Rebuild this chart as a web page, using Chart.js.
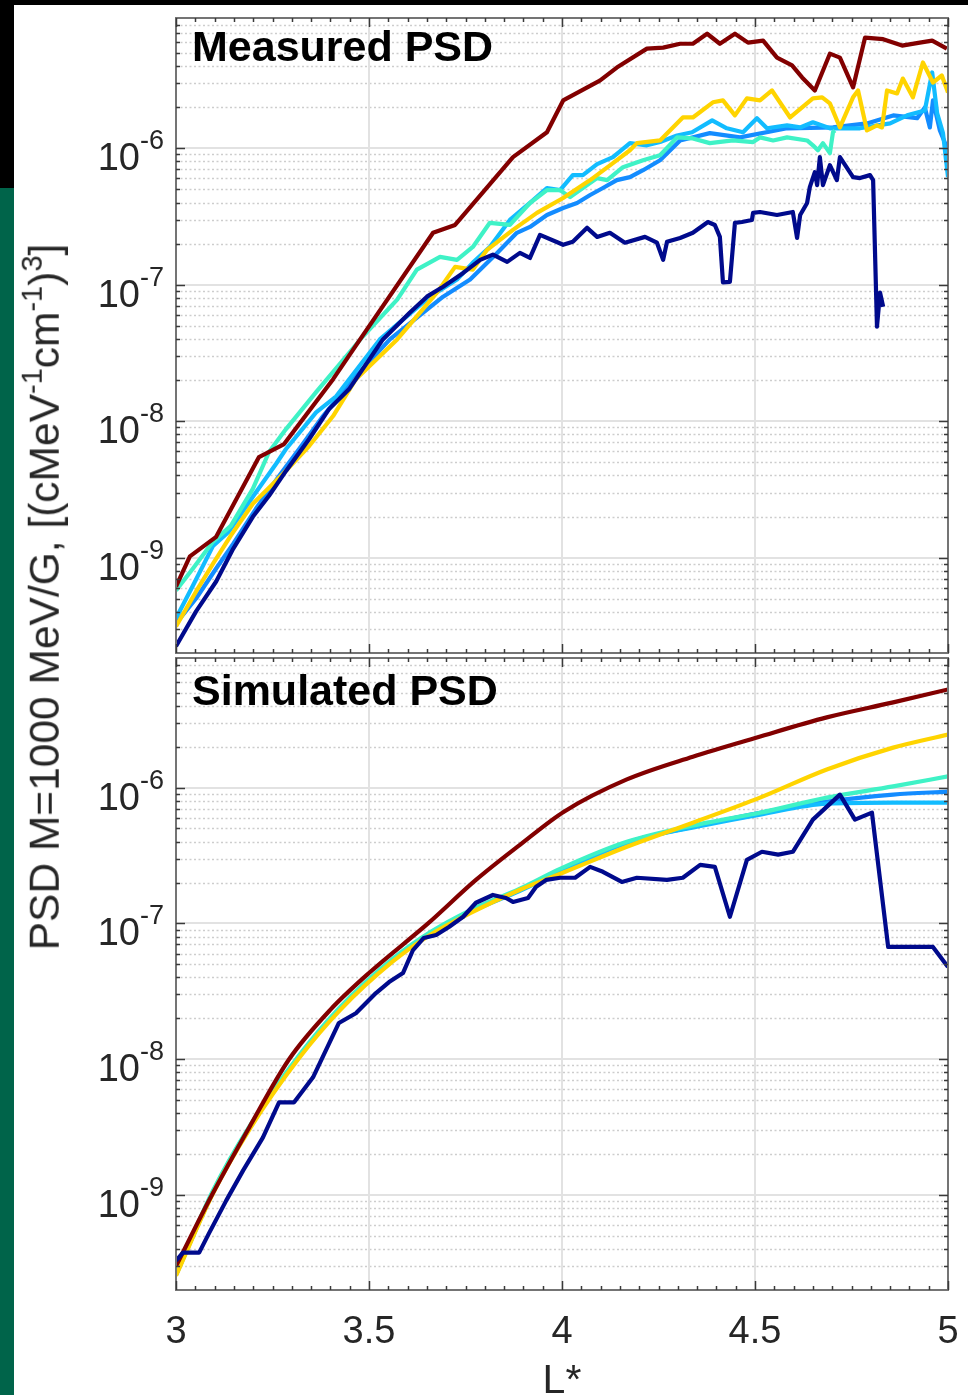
<!DOCTYPE html>
<html>
<head>
<meta charset="utf-8">
<script src="https://cdn.jsdelivr.net/npm/chart.js@4.4.0/dist/chart.umd.min.js"></script>
<style>
  body { margin: 0; width: 968px; height: 1395px; background: #fff; position: relative; overflow: hidden;
         font-family: "Liberation Sans", Arial, sans-serif; }
  #bandTop { position: absolute; left: 0; top: 0; width: 968px; height: 5px; background: #000; }
  #stripBlack { position: absolute; left: 0; top: 0; width: 14px; height: 188px; background: #000; }
  #stripGreen { position: absolute; left: 0; top: 188px; width: 14px; height: 1207px; background: #00644a; }
  #topWrap { position: absolute; left: 0; top: 0; }
  #bottomWrap { position: absolute; left: 0; top: 656px; }
  #yTitle { position: absolute; left: 45px; top: 597px; transform: translate(-50%, -50%) rotate(-90deg);
            white-space: nowrap; font-size: 42.5px; color: #262626; line-height: 1; }
  #yTitle .sup { font-size: 29px; position: relative; top: -17px; }
</style>
</head>
<body>
<div id="bandTop"></div>
<div id="stripBlack"></div>
<div id="stripGreen"></div>
<div id="topWrap"><canvas id="measuredChart" width="968" height="656"></canvas></div>
<div id="bottomWrap"><canvas id="simulatedChart" width="968" height="739"></canvas></div>
<div id="yTitle">PSD M=1000 MeV/G, [(cMeV<span class="sup">-1</span>cm<span class="sup">-1</span>)<span class="sup">3</span>]</div>

<script>
// axis ticks
const xTickValues = [3, 3.5, 4, 4.5, 5];
const xTickLabels = ["3", "3.5", "4", "4.5", "5"];
const yTickValues = [1e-9, 1e-8, 1e-7, 1e-6];
const yTickExps = ["-9", "-8", "-7", "-6"];

// series colours (jet-like)
const seriesColors = {
    navy: "#000a8c",
    red: "#820000",
    yellow: "#ffd400",
    aqua: "#3ff2c6",
    sky: "#12bcff",
    blue: "#138cff"
};

// Measured PSD, [L*, PSD]
const measNavy = [[3.0,2.24e-10],[3.052,4.04e-10],[3.104,6.68e-10],[3.148,1.16e-9],[3.199,1.99e-9],[3.241,2.84e-9],[3.285,4.32e-9],[3.345,7.4e-9],[3.396,1.22e-8],[3.448,1.71e-8],[3.536,3.97e-8],[3.606,6.25e-8],[3.650,8.17e-8],[3.692,9.66e-8],[3.744,1.22e-7],[3.788,1.52e-7],[3.821,1.66e-7],[3.858,1.47e-7],[3.891,1.71e-7],[3.917,1.57e-7],[3.943,2.32e-7],[4.003,1.96e-7],[4.028,2.06e-7],[4.065,2.61e-7],[4.091,2.24e-7],[4.124,2.40e-7],[4.163,2.03e-7],[4.215,2.24e-7],[4.246,2.03e-7],[4.262,1.52e-7],[4.272,2.06e-7],[4.306,2.2e-7],[4.339,2.40e-7],[4.378,2.88e-7],[4.396,2.74e-7],[4.409,2.24e-7],[4.417,1.04e-7],[4.435,1.05e-7],[4.448,2.84e-7],[4.466,2.88e-7],[4.492,2.98e-7],[4.495,3.36e-7],[4.513,3.41e-7],[4.557,3.24e-7],[4.598,3.41e-7],[4.609,2.2e-7],[4.617,3.24e-7],[4.635,3.97e-7],[4.642,5.19e-7],[4.655,6.68e-7],[4.661,5.37e-7],[4.668,8.6e-7],[4.676,5.37e-7],[4.694,7.51e-7],[4.712,5.84e-7],[4.720,8.6e-7],[4.754,6.14e-7],[4.772,6.04e-7],[4.798,6.35e-7],[4.806,5.84e-7],[4.816,4.93e-8],[4.824,8.75e-8],[4.832,6.9e-8]];
const measRed = [[3.0,6.14e-10],[3.036,1.02e-9],[3.104,1.42e-9],[3.215,5.46e-9],[3.280,6.79e-9],[3.407,2.03e-8],[3.477,3.97e-8],[3.666,2.40e-7],[3.723,2.74e-7],[3.873,8.6e-7],[3.961,1.31e-6],[4.003,2.24e-6],[4.098,3.13e-6],[4.142,3.90e-6],[4.220,5.37e-6],[4.262,5.46e-6],[4.306,5.83e-6],[4.339,5.83e-6],[4.376,6.90e-6],[4.409,5.83e-6],[4.448,6.90e-6],[4.482,5.94e-6],[4.521,6.14e-6],[4.557,4.61e-6],[4.596,4.04e-6],[4.622,3.30e-6],[4.655,2.65e-6],[4.694,4.93e-6],[4.720,4.61e-6],[4.754,2.79e-6],[4.785,6.46e-6],[4.832,6.3e-6],[4.881,5.65e-6],[4.927,5.94e-6],[4.959,6.14e-6],[4.997,5.37e-6]];
const measYellow = [[3.0,3.13e-10],[3.052,5.65e-10],[3.096,9.04e-10],[3.142,1.45e-9],[3.199,2.48e-9],[3.277,4.10e-9],[3.345,6.58e-9],[3.407,1.09e-8],[3.466,2.03e-8],[3.573,3.97e-8],[3.676,8.75e-8],[3.723,1.35e-7],[3.769,1.29e-7],[3.806,1.80e-7],[3.873,2.52e-7],[3.935,3.36e-7],[4.003,4.32e-7],[4.073,5.84e-7],[4.132,7.78e-7],[4.176,9.67e-7],[4.194,1.09e-6],[4.254,1.14e-6],[4.313,1.68e-6],[4.339,1.68e-6],[4.391,2.17e-6],[4.417,2.24e-6],[4.448,1.74e-6],[4.479,2.32e-6],[4.513,2.24e-6],[4.544,2.65e-6],[4.591,1.68e-6],[4.622,1.99e-6],[4.650,2.32e-6],[4.674,2.36e-6],[4.694,2.13e-6],[4.720,1.42e-6],[4.754,2.36e-6],[4.767,2.65e-6],[4.790,1.35e-6],[4.816,1.47e-6],[4.829,1.42e-6],[4.842,2.65e-6],[4.868,2.52e-6],[4.883,3.24e-6],[4.909,2.36e-6],[4.935,4.25e-6],[4.961,3.03e-6],[4.984,3.41e-6],[5.0,2.56e-6]];
const measAqua = [[3.0,5.74e-10],[3.044,8.32e-10],[3.096,1.31e-9],[3.142,1.71e-9],[3.199,3.19e-9],[3.241,5.94e-9],[3.285,8.75e-9],[3.363,1.63e-8],[3.484,4.17e-8],[3.573,7.78e-8],[3.624,1.29e-7],[3.684,1.60e-7],[3.728,1.52e-7],[3.769,1.89e-7],[3.813,2.84e-7],[3.865,2.74e-7],[3.917,3.97e-7],[3.961,4.93e-7],[3.995,4.93e-7],[4.021,4.38e-7],[4.054,5.11e-7],[4.091,6.04e-7],[4.117,5.84e-7],[4.158,7.26e-7],[4.210,8.17e-7],[4.254,8.89e-7],[4.298,1.20e-6],[4.339,1.18e-6],[4.383,1.09e-6],[4.443,1.14e-6],[4.495,1.11e-6],[4.513,1.20e-6],[4.547,1.14e-6],[4.583,1.20e-6],[4.635,1.14e-6],[4.650,1.05e-6],[4.663,9.67e-7],[4.676,1.09e-6],[4.694,9.2e-7],[4.702,1.31e-6],[4.707,1.35e-6]];
const measSky = [[3.0,3.59e-10],[3.044,6.25e-10],[3.096,1.22e-9],[3.137,1.55e-9],[3.199,2.79e-9],[3.259,4.85e-9],[3.285,6.25e-9],[3.363,1.16e-8],[3.415,1.52e-8],[3.528,3.97e-8],[3.658,8.17e-8],[3.728,1.09e-7],[3.769,1.45e-7],[3.813,1.89e-7],[3.865,2.98e-7],[3.917,3.97e-7],[3.961,5.11e-7],[3.995,4.93e-7],[4.028,6.35e-7],[4.054,6.35e-7],[4.091,7.64e-7],[4.132,8.6e-7],[4.176,1.09e-6],[4.220,1.05e-6],[4.254,1.11e-6],[4.298,1.24e-6],[4.337,1.31e-6],[4.389,1.60e-6],[4.427,1.40e-6],[4.469,1.31e-6],[4.505,1.66e-6],[4.531,1.40e-6],[4.583,1.47e-6],[4.617,1.42e-6],[4.650,1.55e-6],[4.694,1.40e-6],[4.772,1.40e-6],[4.850,1.52e-6],[4.894,1.74e-6],[4.940,1.89e-6],[4.959,3.59e-6],[4.972,1.80e-6],[4.987,1.29e-6],[4.995,8.17e-7],[5.0,6.14e-7]];
const measBlue = [[3.0,3.3e-10],[3.052,5.02e-10],[3.104,8.32e-10],[3.148,1.26e-9],[3.207,2.28e-9],[3.267,3.97e-9],[3.319,6.25e-9],[3.381,1.09e-8],[3.464,2.1e-8],[3.554,3.97e-8],[3.692,8.17e-8],[3.762,1.09e-7],[3.832,1.71e-7],[3.883,2.40e-7],[3.917,2.65e-7],[3.961,3.24e-7],[4.003,3.65e-7],[4.039,3.97e-7],[4.073,4.54e-7],[4.106,5.11e-7],[4.142,5.84e-7],[4.176,6.14e-7],[4.210,6.9e-7],[4.254,8.17e-7],[4.306,1.14e-6],[4.383,1.29e-6],[4.461,1.20e-6],[4.583,1.40e-6],[4.702,1.42e-6],[4.790,1.52e-6],[4.858,1.74e-6],[4.920,1.66e-6],[4.940,1.99e-6],[4.953,1.42e-6],[4.961,2.24e-6],[4.979,1.35e-6],[5.0,9.67e-7]];

// Simulated PSD, [L*, PSD]
const simNavy = [[3.0,3.29e-10],[3.018,3.77e-10],[3.060,3.77e-10],[3.085,5.2e-10],[3.130,9.1e-10],[3.174,1.52e-9],[3.225,2.65e-9],[3.267,4.82e-9],[3.306,4.82e-9],[3.355,7.36e-9],[3.422,1.85e-8],[3.466,2.18e-8],[3.518,3.07e-8],[3.552,3.70e-8],[3.588,4.31e-8],[3.614,6.37e-8],[3.642,7.82e-8],[3.674,8.22e-8],[3.707,9.42e-8],[3.744,1.12e-7],[3.777,1.42e-7],[3.821,1.62e-7],[3.855,1.54e-7],[3.873,1.44e-7],[3.912,1.54e-7],[3.933,1.86e-7],[3.959,2.09e-7],[3.995,2.17e-7],[4.034,2.17e-7],[4.073,2.61e-7],[4.106,2.40e-7],[4.155,2.02e-7],[4.194,2.17e-7],[4.272,2.09e-7],[4.313,2.17e-7],[4.358,2.70e-7],[4.396,2.61e-7],[4.435,1.12e-7],[4.479,2.94e-7],[4.518,3.37e-7],[4.560,3.21e-7],[4.598,3.37e-7],[4.650,5.81e-7],[4.720,8.88e-7],[4.759,5.81e-7],[4.803,6.54e-7],[4.845,6.71e-8],[4.961,6.71e-8],[5.0,4.78e-8]];
const simRed = [[3.0,3.0e-10],[3.093,1.0e-9],[3.19,3.16e-9],[3.293,1.0e-8],[3.399,2.30e-8],[3.503,4.39e-8],[3.653,1.0e-7],[3.777,2.09e-7],[3.891,3.79e-7],[4.005,6.65e-7],[4.168,1.15e-6],[4.339,1.69e-6],[4.505,2.34e-6],[4.686,3.29e-6],[4.858,4.24e-6],[5.0,5.28e-6]];
const simYellow = [[3.0,2.55e-10],[3.096,1.03e-9],[3.192,3.10e-9],[3.319,1.02e-8],[3.425,2.30e-8],[3.560,5.20e-8],[3.658,8.22e-8],[3.762,1.19e-7],[3.891,1.77e-7],[4.005,2.38e-7],[4.168,3.67e-7],[4.339,5.52e-7],[4.513,8.44e-7],[4.686,1.36e-6],[4.858,1.97e-6],[5.0,2.46e-6]];
const simAqua = [[3.0,2.64e-10],[3.096,1.08e-9],[3.192,3.26e-9],[3.319,1.07e-8],[3.425,2.42e-8],[3.560,5.45e-8],[3.658,8.6e-8],[3.762,1.25e-7],[3.891,1.80e-7],[3.995,2.52e-7],[4.168,3.99e-7],[4.376,5.52e-7],[4.513,6.53e-7],[4.686,8.44e-7],[4.858,1.02e-6],[5.0,1.21e-6]];
const simSky = [[3.0,2.58e-10],[3.096,1.05e-9],[3.192,3.18e-9],[3.319,1.04e-8],[3.425,2.36e-8],[3.560,5.3e-8],[3.658,8.4e-8],[3.762,1.21e-7],[3.891,1.74e-7],[3.995,2.40e-7],[4.168,3.93e-7],[4.376,5.33e-7],[4.513,6.32e-7],[4.686,7.62e-7],[4.858,7.75e-7],[5.0,7.75e-7]];
const simBlue = [[3.0,2.6e-10],[3.096,1.06e-9],[3.192,3.2e-9],[3.319,1.05e-8],[3.425,2.38e-8],[3.560,5.35e-8],[3.658,8.45e-8],[3.762,1.22e-7],[3.891,1.76e-7],[3.995,2.44e-7],[4.168,3.93e-7],[4.376,5.42e-7],[4.513,6.53e-7],[4.686,7.88e-7],[4.858,8.88e-7],[5.0,9.34e-7]];

const Y_MIN = 2e-10;
const Y_MAX = 9e-6;
const FONT = '"Liberation Sans", Arial, sans-serif';
const TEXT_COLOR = "#262626";

// MATLAB-style box: grid, inward ticks, tick labels, panel title
const matlabAxes = {
    id: "matlabAxes",
    beforeDatasetsDraw(chart) {
        const { ctx, chartArea: a, scales: { x, y } } = chart;
        ctx.save();
        // minor y grid (dotted)
        ctx.strokeStyle = "#cdcdcd";
        ctx.lineWidth = 1.5;
        ctx.setLineDash([2, 2.5]);
        for (let e = -10; e <= -5; e++) {
            for (let m = 2; m <= 9; m++) {
                const v = m * Math.pow(10, e);
                if (v <= Y_MIN || v >= Y_MAX) continue;
                const py = Math.round(y.getPixelForValue(v)) + 0.5;
                ctx.beginPath(); ctx.moveTo(a.left, py); ctx.lineTo(a.right, py); ctx.stroke();
            }
        }
        // major grid
        ctx.setLineDash([]);
        ctx.strokeStyle = "#e2e2e2";
        ctx.lineWidth = 2;
        yTickValues.forEach(v => {
            const py = Math.round(y.getPixelForValue(v));
            ctx.beginPath(); ctx.moveTo(a.left, py); ctx.lineTo(a.right, py); ctx.stroke();
        });
        xTickValues.slice(1, -1).forEach(v => {
            const px = Math.round(x.getPixelForValue(v));
            ctx.beginPath(); ctx.moveTo(px, a.top); ctx.lineTo(px, a.bottom); ctx.stroke();
        });
        ctx.restore();
    },
    afterDatasetsDraw(chart, args, opts) {
        const { ctx, chartArea: a, scales: { x, y } } = chart;
        ctx.save();
        // frame
        ctx.strokeStyle = "#747474";
        ctx.lineWidth = 2;
        ctx.strokeRect(a.left, a.top, a.right - a.left, a.bottom - a.top);

        // inward ticks on all sides
        ctx.strokeStyle = "#3a3a3a";
        ctx.lineWidth = 1.5;
        const tick = (x0, y0, x1, y1) => { ctx.beginPath(); ctx.moveTo(x0, y0); ctx.lineTo(x1, y1); ctx.stroke(); };
        for (let k = 0; k <= 40; k++) {
            const v = 3 + k * 0.05;
            const px = Math.round(x.getPixelForValue(v)) + 0.5;
            const len = k % 10 === 0 ? 9 : 4;
            tick(px, a.bottom, px, a.bottom - len);
            tick(px, a.top, px, a.top + len);
        }
        for (let e = -10; e <= -5; e++) {
            for (let m = 1; m <= 9; m++) {
                const v = m * Math.pow(10, e);
                if (v <= Y_MIN || v >= Y_MAX) continue;
                const py = Math.round(y.getPixelForValue(v)) + 0.5;
                const len = m === 1 ? 9 : 4;
                tick(a.left, py, a.left + len, py);
                tick(a.right, py, a.right - len, py);
            }
        }

        // y tick labels 10^n
        ctx.fillStyle = TEXT_COLOR;
        ctx.textBaseline = "alphabetic";
        ctx.textAlign = "left";
        yTickValues.forEach((v, i) => {
            const py = y.getPixelForValue(v);
            ctx.font = "27px " + FONT;
            const sw = ctx.measureText(yTickExps[i]).width;
            ctx.font = "38px " + FONT;
            const bw = ctx.measureText("10").width;
            const right = a.left - 12;
            ctx.fillText("10", right - sw - bw, py + 22);
            ctx.font = "27px " + FONT;
            ctx.fillText(yTickExps[i], right - sw, py + 1);
        });

        // x tick labels and axis label on the lower panel only
        if (opts.xLabels) {
            ctx.font = "38px " + FONT;
            ctx.textAlign = "center";
            xTickValues.forEach((v, i) => {
                ctx.fillText(xTickLabels[i], x.getPixelForValue(v), a.bottom + 53);
            });
            ctx.font = "41px " + FONT;
            ctx.fillText("L*", x.getPixelForValue(4), a.bottom + 103);
        }

        // panel title
        ctx.font = "bold 43px " + FONT;
        ctx.textAlign = "left";
        ctx.fillStyle = "#000";
        ctx.fillText(opts.title, a.left + 16, a.top + opts.titleDy);
        ctx.restore();
    }
};

function toPoints(pairs) {
    return pairs.map(p => ({ x: p[0], y: p[1] }));
}

function makeDatasets(series, smooth) {
    return series.map(s => ({
        label: s.name,
        data: toPoints(s.data),
        borderColor: seriesColors[s.color],
        borderWidth: 4.2,
        pointRadius: 0,
        fill: false,
        borderJoinStyle: "round",
        cubicInterpolationMode: smooth && s.color !== "navy" ? "monotone" : "default",
        tension: 0
    }));
}

function makeChart(canvasId, datasets, padding, pluginOpts) {
    return new Chart(document.getElementById(canvasId), {
        type: "line",
        data: { datasets: datasets },
        options: {
            responsive: false,
            animation: false,
            events: [],
            layout: { padding: padding },
            scales: {
                x: { type: "linear", min: 3, max: 5, display: false },
                y: { type: "logarithmic", min: Y_MIN, max: Y_MAX, display: false }
            },
            plugins: {
                legend: { display: false },
                tooltip: { enabled: false },
                matlabAxes: pluginOpts
            }
        },
        plugins: [matlabAxes]
    });
}

// first dataset is drawn on top
const measuredSeries = [
    { name: "navy", color: "navy", data: measNavy },
    { name: "red", color: "red", data: measRed },
    { name: "yellow", color: "yellow", data: measYellow },
    { name: "aqua", color: "aqua", data: measAqua },
    { name: "sky", color: "sky", data: measSky },
    { name: "blue", color: "blue", data: measBlue }
];
const simulatedSeries = [
    { name: "navy", color: "navy", data: simNavy },
    { name: "red", color: "red", data: simRed },
    { name: "yellow", color: "yellow", data: simYellow },
    { name: "aqua", color: "aqua", data: simAqua },
    { name: "sky", color: "sky", data: simSky },
    { name: "blue", color: "blue", data: simBlue }
];

makeChart("measuredChart", makeDatasets(measuredSeries, false),
    { left: 176, right: 20, top: 18, bottom: 3 },
    { title: "Measured PSD", titleDy: 43, xLabels: false });

makeChart("simulatedChart", makeDatasets(simulatedSeries, true),
    { left: 176, right: 20, top: 2, bottom: 105 },
    { title: "Simulated PSD", titleDy: 47, xLabels: true });
</script>
</body>
</html>
